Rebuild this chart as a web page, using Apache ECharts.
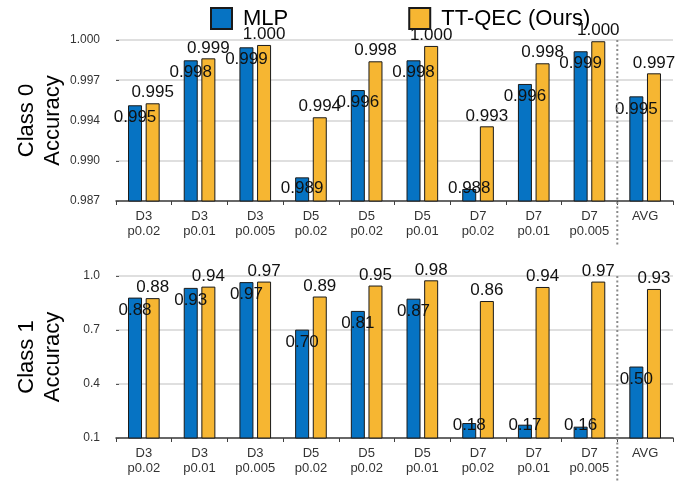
<!DOCTYPE html>
<html>
<head>
<meta charset="utf-8">
<script src="https://cdn.jsdelivr.net/npm/echarts@6/dist/echarts.min.js"></script>
<style>
  html, body { margin: 0; padding: 0; background: #fff; }
  #chart { width: 697px; height: 483px; }
</style>
</head>
<body>
<div id="chart"></div>
<script>
// Categories (decoder setting: code distance + physical error rate)
const categories = ['D3\np0.02', 'D3\np0.01', 'D3\np0.005', 'D5\np0.02', 'D5\np0.02',
                    'D5\np0.01', 'D7\np0.02', 'D7\np0.01', 'D7\np0.005', 'AVG'];
const seriesNames = ['MLP', 'TT-QEC (Ours)'];

// Class 0 accuracy
const class0Mlp   = [0.99473, 0.99836, 0.99941, 0.98891, 0.99596, 0.99836, 0.98797, 0.99645, 0.99909, 0.99545];
const class0Ttqec = [0.99489, 0.99852, 0.99960, 0.99376, 0.99828, 0.99952, 0.99303, 0.99812, 0.99990, 0.99731];

// Class 1 accuracy
const class1Mlp   = [0.880, 0.934, 0.966, 0.702, 0.806, 0.874, 0.183, 0.174, 0.163, 0.497];
const class1Ttqec = [0.877, 0.941, 0.969, 0.886, 0.947, 0.976, 0.861, 0.939, 0.969, 0.928];

// Y-axis ticks
const class0TickValues = [0.987, 0.99025, 0.9935, 0.99675, 1.0];
const class0TickLabels = ['0.987', '0.990', '0.994', '0.997', '1.000'];
const class1TickValues = [0.1, 0.4, 0.7, 1.0];
const class1TickLabels = ['0.1', '0.4', '0.7', '1.0'];

const FONT = '"Liberation Sans", Arial, Helvetica, sans-serif';
const BLUE = '#0673C3';
const GOLD = '#F6B632';
const EDGE = '#1a1a1a';

const chart = echarts.init(document.getElementById('chart'), null, { renderer: 'canvas' });

function tickFormatter(values, labels) {
  return function (v) {
    let best = 0;
    for (let i = 1; i < values.length; i++) {
      if (Math.abs(values[i] - v) < Math.abs(values[best] - v)) best = i;
    }
    return labels[best];
  };
}

// Short bars keep their label resting on the axis instead of spilling below it
function mlpData(values, min, max) {
  return values.map(function (v) {
    if ((v - min) / (max - min) < 0.15) {
      return { value: v, label: { position: 'insideBottom', distance: 5 } };
    }
    return v;
  });
}

function xAxisFor(gridIndex) {
  return {
    type: 'category',
    gridIndex: gridIndex,
    data: categories,
    axisLine: { lineStyle: { color: '#404040', width: 1.5 } },
    axisTick: { show: true, length: 4, lineStyle: { color: '#404040', width: 1 } },
    axisLabel: { interval: 0, fontFamily: FONT, fontSize: 13, lineHeight: 15, color: '#333', margin: 8 }
  };
}

function yAxisFor(gridIndex, name, min, max, tickValues, tickLabels) {
  return {
    type: 'value',
    gridIndex: gridIndex,
    min: min,
    max: max,
    name: name,
    nameLocation: 'middle',
    nameGap: 50,
    nameMoveOverlap: false,
    nameTextStyle: { fontFamily: FONT, fontSize: 22, lineHeight: 26, color: '#000' },
    axisLine: { show: false },
    axisTick: { show: true, inside: true, length: 3, customValues: tickValues,
                lineStyle: { color: '#555', width: 1 } },
    axisLabel: { customValues: tickValues, formatter: tickFormatter(tickValues, tickLabels),
                 fontFamily: FONT, fontSize: 12, color: '#333', margin: 16 },
    splitLine: { show: true, lineStyle: { color: '#d4d4d4', width: 1.5 } }
  };
}

function barSeries(name, data, gridIndex, color, labelPos, digits) {
  return {
    name: name,
    type: 'bar',
    xAxisIndex: gridIndex,
    yAxisIndex: gridIndex,
    data: data,
    barWidth: 14,
    barGap: '26%',
    itemStyle: { color: color, borderColor: EDGE, borderWidth: 1 },
    label: {
      show: true,
      position: labelPos,
      distance: labelPos === 'top' ? 2 : 4,
      fontFamily: FONT,
      fontSize: 17,
      color: '#111',
      formatter: function (p) { return p.value.toFixed(digits); }
    }
  };
}

const option = {
  animation: false,
  backgroundColor: '#fff',
  legend: {
    data: seriesNames,
    left: 205,
    top: 2,
    itemWidth: 21,
    itemHeight: 21,
    itemGap: 120,
    icon: 'rect',
    textStyle: { fontFamily: FONT, fontSize: 22, color: '#000', padding: [0, 0, 0, 6] }
  },
  grid: [
    { left: 116, right: 24, top: 40, height: 161 },
    { left: 116, right: 24, top: 276, height: 162 }
  ],
  xAxis: [xAxisFor(0), xAxisFor(1)],
  yAxis: [
    yAxisFor(0, 'Class 0\nAccuracy', 0.987, 1.0, class0TickValues, class0TickLabels),
    yAxisFor(1, 'Class 1\nAccuracy', 0.1, 1.0, class1TickValues, class1TickLabels)
  ],
  series: [
    barSeries(seriesNames[0], mlpData(class0Mlp, 0.987, 1.0), 0, BLUE, 'insideTop', 3),
    barSeries(seriesNames[1], class0Ttqec, 0, GOLD, 'top', 3),
    barSeries(seriesNames[0], mlpData(class1Mlp, 0.1, 1.0), 1, BLUE, 'insideTop', 2),
    barSeries(seriesNames[1], class1Ttqec, 1, GOLD, 'top', 2)
  ]
};

chart.setOption(option);

// Dotted separator between the per-setting groups and the average
function separator(gridIndex, yMin, yMax) {
  const xa = chart.convertToPixel({ xAxisIndex: gridIndex }, 8);
  const xb = chart.convertToPixel({ xAxisIndex: gridIndex }, 9);
  const x = (xa + xb) / 2;
  const yTop = chart.convertToPixel({ yAxisIndex: gridIndex }, yMax);
  const yBottom = chart.convertToPixel({ yAxisIndex: gridIndex }, yMin) + 46;
  return {
    type: 'line',
    shape: { x1: x, y1: yTop, x2: x, y2: yBottom },
    style: { stroke: '#8a8a8a', lineWidth: 2, lineDash: [2, 2.5] },
    z: 10
  };
}

chart.setOption({
  graphic: [separator(0, 0.987, 1.0), separator(1, 0.1, 1.0)]
});
</script>
</body>
</html>
